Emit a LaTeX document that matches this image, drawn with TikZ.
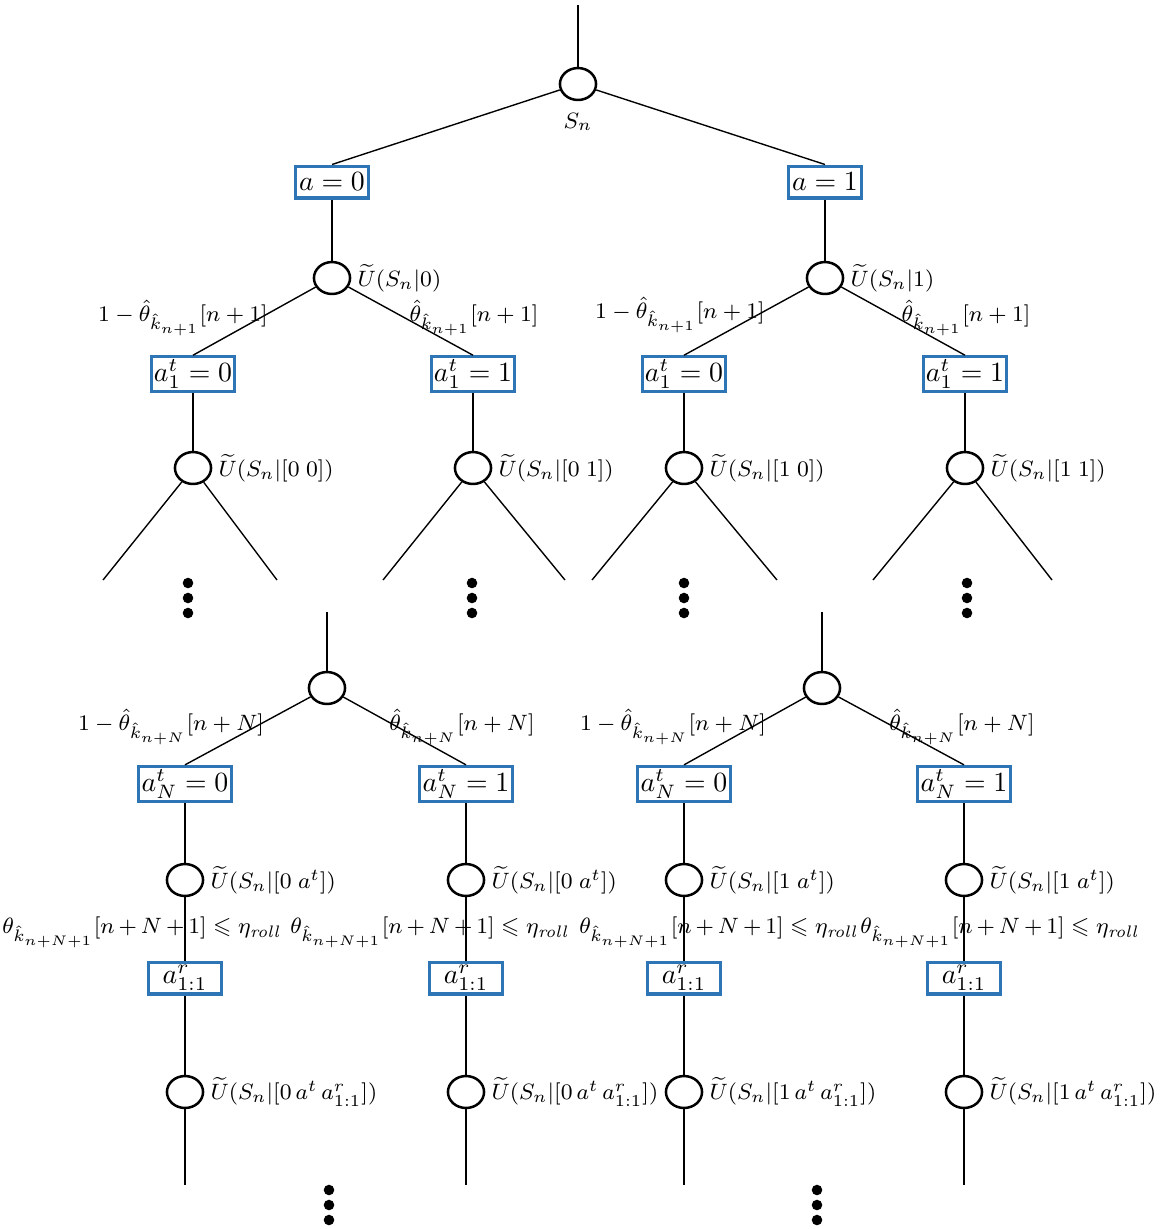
\documentclass[tikz,border=0pt]{standalone}
\usepackage{amsmath,amssymb}
\usetikzlibrary{shapes.geometric,positioning}
\definecolor{boxblue}{RGB}{46,117,182}
\tikzset{state/.style={draw, ellipse, line width=0.9pt, minimum width=13pt, minimum height=11.5pt, inner sep=0pt},
  act/.style={draw=boxblue, line width=1.1pt, minimum width=26pt, minimum height=11.5pt, inner sep=1pt},
  lab/.style={inner sep=1pt, font=\fontsize{8.5}{10}\selectfont},
  rolllab/.style={lab, execute at begin node={\medmuskip=3mu}}}

\begin{document}
\begin{tikzpicture}[x=0.36pt, y=-0.36pt, line width=0.5pt]
  \useasboundingbox (0,0) rectangle (1164,1229);
  % upper tree
  \coordinate (rt) at (578,5);
  \node[state] (r) at (578,84) {};
  \node[lab, below=3pt of r] (ls) {$S_n$};
  \node[act] (b0) at (332,182) {$a=0$};
  \node[act] (b1) at (825,182) {$a=1$};
  \node[state] (u0) at (332,278) {};
  \node[state] (u1) at (825,278) {};
  \node[lab, right=1pt of u0] (lu0) {$\widetilde{U}(S_n|0)$};
  \node[lab, right=1pt of u1] (lu1) {$\widetilde{U}(S_n|1)$};
  \node[lab] (p00) at (183,318) {$1-\hat\theta_{\hat k_{n+1}}[n+1]$};
  \node[lab] (p01) at (474,318) {$\hat\theta_{\hat k_{n+1}}[n+1]$};
  \node[lab] (p10) at (680,315) {$1-\hat\theta_{\hat k_{n+1}}[n+1]$};
  \node[lab] (p11) at (966,318) {$\hat\theta_{\hat k_{n+1}}[n+1]$};
  \node[act] (t00) at (193,374) {$a_1^t=0$};
  \node[act] (t01) at (473,374) {$a_1^t=1$};
  \node[act] (t10) at (684,374) {$a_1^t=0$};
  \node[act] (t11) at (965,374) {$a_1^t=1$};
  \node[state] (v00) at (193,468) {};
  \node[state] (v01) at (473,468) {};
  \node[state] (v10) at (684,468) {};
  \node[state] (v11) at (965,468) {};
  \node[lab, right=1pt of v00] (lv00) {$\widetilde{U}(S_n|[0\;0])$};
  \node[lab, right=1pt of v01] (lv01) {$\widetilde{U}(S_n|[0\;1])$};
  \node[lab, right=1pt of v10] (lv10) {$\widetilde{U}(S_n|[1\;0])$};
  \node[lab, right=1pt of v11] (lv11) {$\widetilde{U}(S_n|[1\;1])$};
  \coordinate (v00l) at (103,580); \coordinate (v00r) at (277,580);
  \coordinate (v01l) at (383,580); \coordinate (v01r) at (565,580);
  \coordinate (v10l) at (592,580); \coordinate (v10r) at (777,580);
  \coordinate (v11l) at (873,580); \coordinate (v11r) at (1052,580);
  \draw (rt) -- (r);
  \draw (r) -- (b0.north);
  \draw (r) -- (b1.north);
  \draw (b0) -- (u0);
  \draw (b1) -- (u1);
  \draw (u0) -- (t00.north);
  \draw (u0) -- (t01.north);
  \draw (u1) -- (t10.north);
  \draw (u1) -- (t11.north);
  \draw (t00) -- (v00);
  \draw (t01) -- (v01);
  \draw (t10) -- (v10);
  \draw (t11) -- (v11);
  \draw (v00l) -- (v00) -- (v00r);
  \draw (v01l) -- (v01) -- (v01r);
  \draw (v10l) -- (v10) -- (v10r);
  \draw (v11l) -- (v11) -- (v11r);
  \fill (188,583) circle (1.9pt) (188,598) circle (1.9pt) (188,613) circle (1.9pt);
  \fill (472,583) circle (1.9pt) (472,598) circle (1.9pt) (472,613) circle (1.9pt);
  \fill (684,583) circle (1.9pt) (684,598) circle (1.9pt) (684,613) circle (1.9pt);
  \fill (967,583) circle (1.9pt) (967,598) circle (1.9pt) (967,613) circle (1.9pt);
  % lower tree
  \coordinate (w0t) at (327,612);
  \coordinate (w1t) at (822,612);
  \node[state] (w0) at (327,688) {};
  \node[state] (w1) at (822,688) {};
  \node[lab] (q00) at (171,727) {$1-\hat\theta_{\hat k_{n+N}}[n+N]$};
  \node[lab] (q01) at (462,727) {$\hat\theta_{\hat k_{n+N}}[n+N]$};
  \node[lab] (q10) at (673,727) {$1-\hat\theta_{\hat k_{n+N}}[n+N]$};
  \node[lab] (q11) at (962,727) {$\hat\theta_{\hat k_{n+N}}[n+N]$};
  \node[act] (n00) at (185,784) {$a_N^t=0$};
  \node[act] (n01) at (466,784) {$a_N^t=1$};
  \node[act] (n10) at (684,784) {$a_N^t=0$};
  \node[act] (n11) at (964,784) {$a_N^t=1$};
  \node[state] (x00) at (185,880) {};
  \node[state] (x01) at (466,880) {};
  \node[state] (x10) at (684,880) {};
  \node[state] (x11) at (964,880) {};
  \node[lab, right=1pt of x00] (lx00) {$\widetilde{U}(S_n|[0\;a^t])$};
  \node[lab, right=1pt of x01] (lx01) {$\widetilde{U}(S_n|[0\;a^t])$};
  \node[lab, right=1pt of x10] (lx10) {$\widetilde{U}(S_n|[1\;a^t])$};
  \node[lab, right=1pt of x11] (lx11) {$\widetilde{U}(S_n|[1\;a^t])$};
  \node[rolllab] (g00) at (142,932) {$\theta_{\hat k_{n+N+1}}[n+N+1]\leqslant\eta_{\mathit{roll}}$};
  \node[rolllab] (g01) at (430,932) {$\theta_{\hat k_{n+N+1}}[n+N+1]\leqslant\eta_{\mathit{roll}}$};
  \node[rolllab] (g10) at (719,932) {$\theta_{\hat k_{n+N+1}}[n+N+1]\leqslant\eta_{\mathit{roll}}$};
  \node[rolllab] (g11) at (1000,932) {$\theta_{\hat k_{n+N+1}}[n+N+1]\leqslant\eta_{\mathit{roll}}$};
  \node[act] (m00) at (185,978) {$a_{1:1}^r$};
  \node[act] (m01) at (466,978) {$a_{1:1}^r$};
  \node[act] (m10) at (684,978) {$a_{1:1}^r$};
  \node[act] (m11) at (964,978) {$a_{1:1}^r$};
  \node[state] (y00) at (185,1092) {};
  \node[state] (y01) at (466,1092) {};
  \node[state] (y10) at (684,1092) {};
  \node[state] (y11) at (964,1092) {};
  \node[lab, right=1pt of y00] (ly00) {$\widetilde{U}(S_n|[0\,a^t\,a_{1:1}^r])$};
  \node[lab, right=1pt of y01] (ly01) {$\widetilde{U}(S_n|[0\,a^t\,a_{1:1}^r])$};
  \node[lab, right=1pt of y10] (ly10) {$\widetilde{U}(S_n|[1\,a^t\,a_{1:1}^r])$};
  \node[lab, right=1pt of y11] (ly11) {$\widetilde{U}(S_n|[1\,a^t\,a_{1:1}^r])$};
  \coordinate (y00e) at (185,1185);
  \coordinate (y01e) at (466,1185);
  \coordinate (y10e) at (684,1185);
  \coordinate (y11e) at (964,1185);
  \draw (w0t) -- (w0);
  \draw (w1t) -- (w1);
  \draw (w0) -- (n00.north);
  \draw (w0) -- (n01.north);
  \draw (w1) -- (n10.north);
  \draw (w1) -- (n11.north);
  \draw (n00) -- (x00) -- (m00) -- (y00) -- (y00e);
  \draw (n01) -- (x01) -- (m01) -- (y01) -- (y01e);
  \draw (n10) -- (x10) -- (m10) -- (y10) -- (y10e);
  \draw (n11) -- (x11) -- (m11) -- (y11) -- (y11e);
  \fill (329,1190) circle (1.9pt) (329,1205) circle (1.9pt) (329,1220) circle (1.9pt);
  \fill (817,1190) circle (1.9pt) (817,1205) circle (1.9pt) (817,1220) circle (1.9pt);
\end{tikzpicture}
\end{document}
